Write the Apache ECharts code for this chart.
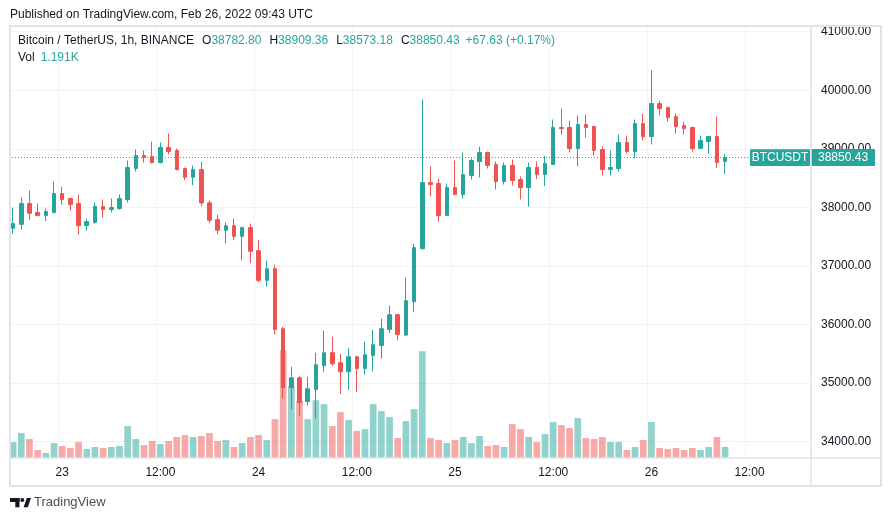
<!DOCTYPE html>
<html><head><meta charset="utf-8">
<script src="https://cdn.jsdelivr.net/npm/echarts@6/dist/echarts.min.js"></script>
<style>html,body{margin:0;padding:0;background:#fff}#c{width:891px;height:521px}</style>
</head><body><div id="c"></div>
<script>
// Hourly candles BTC/USDT, Binance, from 2022-02-22 18:00 UTC to 2022-02-26 09:00 UTC
const opens = [37644,37712,38066,37912,37860,37912,38236,38151,38066,37689,37741,38014,37963,37980,38134,38664,38886,38869,38766,39023,
38972,38664,38516,38647,38077,37792,37610,37689,37507,37655,37262,36755,36954,35929,34926,35091,34687,34892,35296,35519,
35348,35194,35450,35251,35473,35644,35917,36168,35820,36390,37296,38424,38407,37860,38339,38219,38544,38783,38937,38732,
38442,38715,38476,38339,38682,38563,38733,39364,39364,39006,39415,39381,38989,38648,38665,39108,38955,39432,39210,39773,
39705,39551,39398,39364,39006,39125,39210,38782.80];
const highs = [37997,38168,38288,38066,37980,38442,38356,38168,38219,37809,38083,38134,38151,38219,38801,38989,38972,39125,39108,39262,
39006,38681,38715,38783,38117,37877,37741,37809,37672,37724,37439,37091,37023,35963,35279,35125,35108,35519,35895,35792,
35501,35604,35467,35707,35912,36100,36322,36185,36801,37382,39843,38698,38493,38407,38801,38937,38835,39040,38954,38783,
38766,38818,38527,38766,38784,38881,39500,39687,39483,39568,39585,39398,39040,38972,39244,39227,39500,39602,40341,39824,
39722,39602,39466,39381,39227,39210,39551,38909.36];
const lows = [37553,37621,37781,37849,37764,37900,38048,37946,37536,37604,37724,37826,37912,37963,38083,38613,38766,38749,38749,38903,
38630,38464,38379,38020,37729,37541,37387,37439,37097,37046,36721,36652,35832,34738,34550,34442,34618,34396,35194,35296,
34818,34886,34846,35148,35199,35422,35860,35729,35809,36219,37280,38185,37758,37860,38219,38151,38476,38510,38664,38305,
38390,38373,38134,38014,38483,38364,38733,39244,38938,38699,39193,38886,38546,38546,38614,38920,38835,39142,39074,39568,
39466,39261,39244,38955,39006,38920,38670,38573.18];
const closes = [37724,38066,37900,37860,37929,38236,38134,38048,37689,37758,38014,37963,37997,38151,38681,38886,38852,38766,39023,38954,
38647,38516,38647,38077,37781,37610,37689,37507,37655,37251,36755,36954,35917,34926,35091,34669,34903,35313,35519,35330,
35194,35450,35251,35484,35655,35929,36168,35832,36407,37313,38424,38390,37860,38339,38219,38561,38801,38937,38715,38442,
38715,38459,38339,38681,38563,38750,39364,39346,39006,39415,39364,38972,38648,38682,39108,38955,39432,39210,39773,39687,
39534,39381,39346,39006,39142,39210,38767,38850.43];
// Volume in thousands of BTC
const volumes = [1.73,2.70,2.05,0.86,0.54,1.62,1.30,1.08,1.73,0.97,1.19,1.08,1.19,1.30,3.46,2.05,1.40,1.84,1.51,1.84,
2.27,2.48,2.27,2.38,2.70,1.84,1.94,1.19,1.62,2.27,2.48,1.94,4.21,11.66,7.78,6.16,4.21,6.26,5.83,3.46,
4.97,4.10,2.92,3.13,5.83,5.08,4.43,2.16,4.00,5.29,11.56,2.16,1.94,1.62,1.94,2.27,1.62,2.38,1.30,1.40,
1.19,3.67,3.13,2.27,1.73,2.59,3.89,3.56,3.24,4.32,2.16,2.05,2.27,1.73,1.73,0.86,1.19,1.94,3.89,1.08,
0.97,1.08,0.86,1.08,0.86,1.19,2.27,1.191];
const priceTicks = [34000, 35000, 36000, 37000, 38000, 39000, 40000, 41000];
const futureSlots = 10;
const symbolName = 'BTCUSDT';
const titleText = 'Bitcoin / TetherUS, 1h, BINANCE';
const publishedText = 'Published on TradingView.com, Feb 26, 2022 09:43 UTC';

// hourly category axis
const categories = [];
const t0 = Date.UTC(2022, 1, 22, 18);
for (let i = 0; i < opens.length + futureSlots; i++) {
  const d = new Date(t0 + i * 3600000);
  const p = n => String(n).padStart(2, '0');
  categories.push(d.getUTCFullYear() + '-' + p(d.getUTCMonth() + 1) + '-' + p(d.getUTCDate()) + ' ' + p(d.getUTCHours()) + ':00');
}
const catStr = v => (typeof v === 'number' ? (categories[v] || '') : String(v));
const tickLabel = v => { const s = catStr(v); if (s.length < 16) return ''; const h = s.slice(11, 13); if (h === '00') return String(+s.slice(8, 10)); if (h === '12') return '12:00'; return ''; };
const isTick = (idx) => tickLabel(categories[idx] || '') !== '';

const UP = '#26a69a', DOWN = '#ef5350';
const FONT = 'Liberation Sans, Arial, sans-serif';
const BORDER = '#e0e3eb';
const last = opens.length - 1;
const candleData = opens.map((o, i) => [o, closes[i], lows[i], highs[i]]);
const volData = volumes.map((v, i) => ({ value: v, itemStyle: { color: closes[i] >= opens[i] ? 'rgba(38,166,154,0.5)' : 'rgba(239,83,80,0.5)' } }));
const chg = closes[last] - opens[last];
const chgPct = chg / opens[last] * 100;
const sgn = x => (x >= 0 ? '+' : '');

const chart = echarts.init(document.getElementById('c'), null, { renderer: 'canvas' });
const GL = 9, GW = 802;

chart.setOption({
  animation: false,
  backgroundColor: '#fff',
  textStyle: { fontFamily: FONT },
  grid: [
    { left: GL, width: GW, top: 31.7, height: 410 },
    { left: GL, width: GW, top: 26, height: 432 }
  ],
  xAxis: [
    { type: 'category', gridIndex: 0, data: categories, show: false, boundaryGap: true },
    { type: 'category', gridIndex: 1, data: categories, boundaryGap: true,
      axisLine: { show: false }, axisTick: { show: false },
      axisLabel: { interval: 0, formatter: tickLabel, color: '#131722', fontSize: 12, margin: 9, fontFamily: FONT },
      splitLine: { show: true, interval: isTick, lineStyle: { color: '#f0f3fa', width: 1 } } }
  ],
  yAxis: [
    { type: 'value', gridIndex: 0, position: 'right', min: priceTicks[0], max: priceTicks[priceTicks.length - 1], interval: 1000,
      axisLine: { show: false }, axisTick: { show: false },
      axisLabel: { formatter: v => Number(v).toFixed(2), color: '#131722', fontSize: 12, margin: 10, fontFamily: FONT },
      splitLine: { lineStyle: { color: '#f0f3fa', width: 1 } } },
    { type: 'value', gridIndex: 1, min: 0, max: 46.75, show: false, splitLine: { show: false } }
  ],
  series: [
    { type: 'bar', xAxisIndex: 1, yAxisIndex: 1, data: volData, barWidth: 6.7, z: 1, silent: true },
    { type: 'candlestick', xAxisIndex: 0, yAxisIndex: 0, data: candleData, barWidth: 4, z: 3,
      itemStyle: { color: UP, color0: DOWN, borderColor: UP, borderColor0: DOWN, borderWidth: 1 },
      markLine: { silent: true, symbol: ['none', 'none'], animation: false,
        lineStyle: { color: UP, type: [1, 2], width: 1 },
        label: { show: true, position: 'end', distance: 0, formatter: p => Number(p.value).toFixed(2),
          backgroundColor: UP, color: '#fff', fontSize: 12, fontFamily: FONT, padding: [3, 7, 2, 7], borderRadius: 1 },
        data: [{ yAxis: closes[last] }] } }
  ]
});

// Decorations and symbol tag, set once (tag positioned via the price axis)
const yLast = chart.convertToPixel({ yAxisIndex: 0 }, closes[last]);
const frameLine = (id, x1, y1, x2, y2, w) => ({ id: id, type: 'line', z: 10, silent: true, shape: { x1: x1, y1: y1, x2: x2, y2: y2 }, style: { stroke: BORDER, lineWidth: w, fill: null } });
chart.setOption({ graphic: [
  { id: 'pub', type: 'text', left: 10, top: 9, style: { text: publishedText, fill: '#131722', font: '12px ' + FONT } },
  frameLine('fT', 9, 26, 882, 26, 2),
  frameLine('fB', 9, 486, 882, 486, 2),
  frameLine('fL', 10, 25, 10, 487, 2),
  frameLine('fR', 881, 25, 881, 487, 2),
  frameLine('vsep', 811, 26, 811, 486, 1.5),
  frameLine('hsep', 10, 458, 881, 458, 1.5),
  { id: 'legend', type: 'text', left: 18, top: 35, z: 20, style: {
      text: '{t|' + titleText + '}{k|O}{v|' + opens[last].toFixed(2) + '}{k|H}{v|' + highs[last].toFixed(2) + '}{k|L}{v|' + lows[last].toFixed(2) + '}{k|C}{v|' + closes[last].toFixed(2) + '}{c|' + sgn(chg) + chg.toFixed(2) + ' (' + sgn(chgPct) + chgPct.toFixed(2) + '%)}',
      rich: {
        t: { fill: '#131722', font: '12px ' + FONT },
        k: { fill: '#131722', font: '12px ' + FONT, padding: [0, 0, 0, 8] },
        v: { fill: UP, font: '12px ' + FONT },
        c: { fill: UP, font: '12px ' + FONT, padding: [0, 0, 0, 6] }
      } } },
  { id: 'vol', type: 'text', left: 18, top: 52, z: 20, style: {
      text: '{k|Vol}{v|' + volumes[last].toFixed(3) + 'K}',
      rich: { k: { fill: '#131722', font: '12px ' + FONT }, v: { fill: UP, font: '12px ' + FONT, padding: [0, 0, 0, 6] } } } },
  { id: 'logo', type: 'group', left: 10, top: 498, children: [
    { type: 'rect', shape: { x: 0, y: 0, width: 9.5, height: 4 }, style: { fill: '#131722' } },
    { type: 'rect', shape: { x: 5.3, y: 0, width: 4.2, height: 9.3 }, style: { fill: '#131722' } },
    { type: 'circle', shape: { cx: 12.3, cy: 2, r: 2 }, style: { fill: '#131722' } },
    { type: 'polygon', shape: { points: [[13.6, 9.3], [17.8, 9.3], [21, 0], [16.8, 0]] }, style: { fill: '#131722' } }
  ] },
  { id: 'brand', type: 'text', left: 34, top: 496, style: { text: 'TradingView', fill: '#4a4e59', font: '13px ' + FONT } },
  { id: 'symtagBox', type: 'rect', z: 30, silent: true, shape: { x: 750, y: yLast - 8.3, width: 60, height: 16.7, r: 1 }, style: { fill: UP } },
  { id: 'symtagText', type: 'text', z: 31, silent: true, x: 780, y: yLast + 0.3, style: { text: symbolName, fill: '#ffffff', font: '12px ' + FONT, align: 'center', verticalAlign: 'middle' } }
] });
</script>
</body></html>
